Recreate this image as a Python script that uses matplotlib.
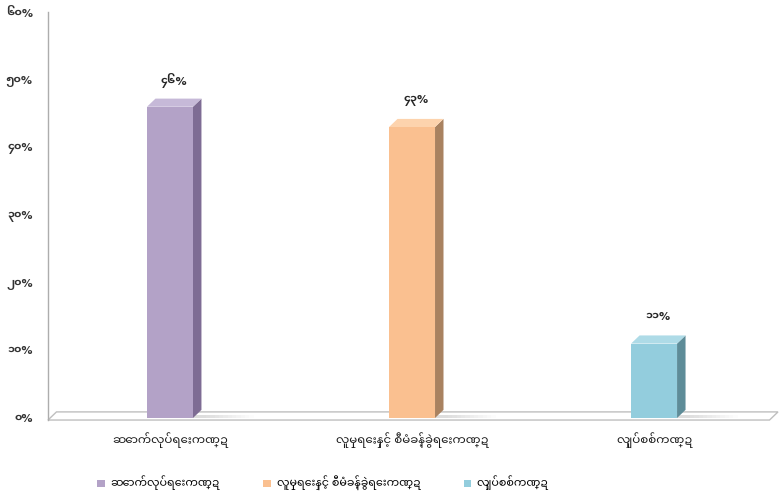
import matplotlib
matplotlib.use("Agg")
import matplotlib.pyplot as plt
from matplotlib.patches import Polygon, Patch
import numpy as np

plt.rcParams['font.family'] = ['Noto Sans Myanmar UI', 'Padauk', 'DejaVu Sans']
num_font = ['DejaVu Sans', 'Noto Sans Myanmar UI']  # keeps % at normal size

categories = ["ဆောက်လုပ်ရေးကဏ္ဍ", "လူမှုရေးနှင့် စီမံခန့်ခွဲရေးကဏ္ဍ", "လျှပ်စစ်ကဏ္ဍ"]
values = [46, 43, 11]
value_labels = ["၄၆%", "၄၃%", "၁၁%"]
yticks = [0, 10, 20, 30, 40, 50, 60]
ytick_labels = ["၀%", "၁၀%", "၂၀%", "၃၀%", "၄၀%", "၅၀%", "၆၀%"]

front_cols = ["#B3A2C7", "#FAC090", "#93CDDD"]
side_cols = ["#7E6C94", "#A98260", "#5E8C98"]
top_cols = ["#C6B9D8", "#FDD3AD", "#AEDBE7"]

W, H = 779, 495
fig = plt.figure(figsize=(W / 100, H / 100), dpi=100)
ax = fig.add_axes([48 / W, (H - 418) / H, (778 - 48) / W, 406 / H])
ax.set_xlim(-0.504, 2.512)
ax.set_ylim(0, 60)
for s in ax.spines.values():
    s.set_visible(False)

# depth of the fake 3d effect
dx = 0.035
dy = 1.2
bw = 0.19

# floor
x0, x1 = ax.get_xlim()
fy = -0.3
floor = Polygon([(x0, fy), (x1 - dx, fy), (x1, fy + dy), (x0 + dx, fy + dy)],
                closed=True, facecolor="white", edgecolor="#BFBFBF", lw=1.0,
                clip_on=False, zorder=1)
ax.add_patch(floor)
ax.plot([x0, x0], [fy, 60], color="#ADADAD", lw=1.0, clip_on=False, zorder=1)

x = np.arange(len(categories))
for i, v in enumerate(values):
    xl = x[i] - bw / 2
    xr = x[i] + bw / 2
    # soft shadow on the floor
    for k in range(12):
        ax.add_patch(Polygon([(xr, 0), (xr + dx + 0.018 * (k + 1), 0),
                              (xr + dx + 0.018 * (k + 1), 0.5), (xr, 0.5)],
                             closed=True, facecolor="#8c8c8c", alpha=0.025,
                             edgecolor="none", zorder=1.5))
    ax.add_patch(Polygon([(xr, 0), (xr + dx, dy), (xr + dx, v + dy), (xr, v)],
                         closed=True, facecolor=side_cols[i], edgecolor="none", zorder=2))
    ax.add_patch(Polygon([(xl, v), (xr, v), (xr + dx, v + dy), (xl + dx, v + dy)],
                         closed=True, facecolor=top_cols[i], edgecolor="none", zorder=2))
    ax.text(x[i] + dx / 2, v + 3.9, value_labels[i], ha="center", va="center",
            fontsize=8, fontweight="bold", color="#262626", family=num_font)

ax.bar(x, values, width=bw, color=front_cols, zorder=3)

ax.set_yticks(yticks)
ax.set_yticklabels(ytick_labels, fontsize=8, fontweight="bold", color="#333333",
                   family=num_font)
ax.set_xticks(x)
ax.set_xticklabels(categories, fontsize=8.5, color="#1a1a1a")
ax.tick_params(axis="y", length=0, pad=11)
ax.tick_params(axis="x", length=0, pad=10)

handles = [Patch(facecolor=c, edgecolor="none") for c in front_cols]
fig.legend(handles, categories, loc="center", ncol=3,
           bbox_to_anchor=(323 / W, 12 / H), frameon=False, fontsize=8,
           handlelength=0.7, handleheight=0.7, handletextpad=0.5,
           columnspacing=3.9)

fig.savefig("out.png", dpi=100)
